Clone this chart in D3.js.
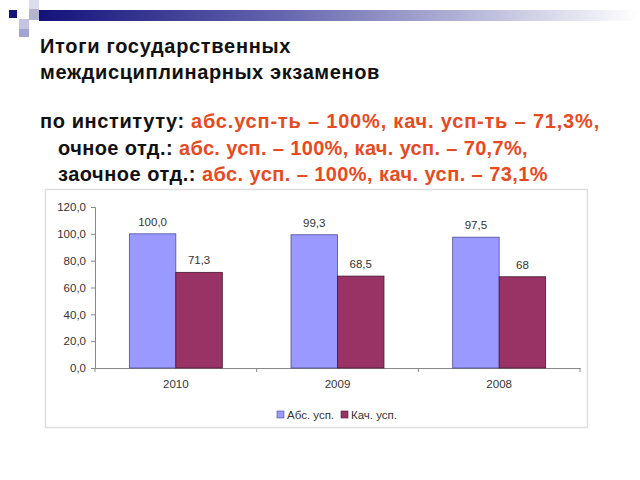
<!DOCTYPE html>
<html><head><meta charset="utf-8">
<script src="https://cdn.jsdelivr.net/npm/d3@7"></script>
<style>body{margin:0;background:#fff}svg{display:block}</style>
</head><body>
<svg id="c" width="640" height="480"></svg>
<script>
const years = ["2010", "2009", "2008"];
const seriesNames = ["Абс. усп.", "Кач. усп."];
const absValues = [100.0, 99.3, 97.5];
const qualValues = [71.3, 68.5, 68];
const yTicks = [0, 20, 40, 60, 80, 100, 120];
const titleLines = ["Итоги государственных", "междисциплинарных экзаменов"];
const infoLines = [
  ["по институту: ", "абс.усп-ть – 100%, кач. усп-ть – 71,3%,"],
  ["очное отд.: ", "абс. усп. – 100%, кач. усп. – 70,7%,"],
  ["заочное отд.: ", "абс. усп. – 100%, кач. усп. – 73,1%"]
];

const svg = d3.select("#c");
const FONT = "'Liberation Sans', Arial, sans-serif";

// fit a text/tspan to a target width via letter-spacing
function fit(sel, target){
  const node = sel.node();
  const w = node.getComputedTextLength();
  const n = node.textContent.length;
  sel.attr("letter-spacing", ((target - w)/n).toFixed(3));
}

// decoration
const defs = svg.append("defs");
const g = defs.append("linearGradient").attr("id","bar").attr("x1","0").attr("x2","1");
g.append("stop").attr("offset","0").attr("stop-color","#12127a");
g.append("stop").attr("offset","0.4").attr("stop-color","#6464ae");
g.append("stop").attr("offset","1").attr("stop-color","#ffffff");
svg.append("rect").attr("x",39).attr("y",10).attr("width",600).attr("height",11).attr("fill","url(#bar)");
[[29,0,10,9,"#dcdcee"],[29,9,10,11,"#b4b4cc"],[19,19,10,10,"#c4c4e2"],[19,29,10,8,"#a4a4d4"],[9,10,8,8,"#16167a"]]
  .forEach(s=>svg.append("rect").attr("x",s[0]).attr("y",s[1]).attr("width",s[2]).attr("height",s[3]).attr("fill",s[4]));

// titles
const titleW = [251, 340];
titleLines.forEach((t,i)=>{
  const el = svg.append("text").attr("x",40).attr("y",53+i*26).attr("font-family",FONT).attr("font-weight","bold")
    .attr("font-size",20).attr("fill","#111").text(t);
  fit(el, titleW[i]);
});
const infoX = [[40,191],[58,179],[58,202]];
const infoW = [[151,409],[121,349],[144,346]];
infoLines.forEach((l,i)=>{
  const t = svg.append("text").attr("y",128+i*26.5).attr("font-family",FONT)
    .attr("font-weight","bold").attr("font-size",20);
  const a = t.append("tspan").attr("x",infoX[i][0]).attr("fill","#111").text(l[0]);
  const b = t.append("tspan").attr("x",infoX[i][1]).attr("fill","#e84a1f").text(l[1]);
  fit(a, infoW[i][0]); fit(b, infoW[i][1]);
});

// chart box
svg.append("rect").attr("x",45.5).attr("y",189.5).attr("width",542).attr("height",238)
  .attr("fill","#fff").attr("stroke","#dedede").attr("stroke-width",1.5);

const x0 = d3.scaleBand().domain(years).range([95,580]).padding(0);
const bw = x0.bandwidth();
const x1 = d3.scaleBand().domain(seriesNames).range([bw*0.2125, bw*0.7875]);
const y = d3.scaleLinear().domain([0,120]).range([368,207]);
const colors = d3.scaleOrdinal().domain(seriesNames).range(["#9999ff","#993366"]);
const strokes = d3.scaleOrdinal().domain(seriesNames).range(["#4d4d99","#4a1530"]);

const fmtComma = v => String(v).replace(".", ",");
const data = years.map((yr,i)=>({year:yr, vals:[
  {s:seriesNames[0], v:absValues[i], label:absValues[i].toFixed(1).replace(".",",")},
  {s:seriesNames[1], v:qualValues[i], label:fmtComma(qualValues[i])}
]}));

// y axis
const yAxis = svg.append("g").attr("transform","translate(95,0)")
  .call(d3.axisLeft(y).tickValues(yTicks).tickSize(4).tickPadding(5).tickFormat(d=>d3.format(".1f")(d).replace(".",",")));
yAxis.selectAll("path,line").attr("stroke","#888");
yAxis.selectAll("text").attr("font-family",FONT).attr("font-size",11.5).attr("fill","#333");

// x axis
const xAxis = svg.append("g").attr("transform","translate(0,368)")
  .call(d3.axisBottom(x0).tickSize(0).tickPadding(12).tickSizeOuter(0));
xAxis.select("path").attr("stroke","#888");
xAxis.selectAll("text").attr("font-family",FONT).attr("font-size",11.5).attr("fill","#333");
xAxis.selectAll("line.b").data([95, ...years.map(yv=>x0(yv)+bw)]).enter().append("line")
  .attr("x1",d=>d).attr("x2",d=>d).attr("y1",0).attr("y2",4).attr("stroke","#888");

// bars
const grp = svg.append("g").selectAll("g").data(data).enter().append("g")
  .attr("transform",d=>`translate(${x0(d.year)},0)`);
grp.selectAll("rect").data(d=>d.vals).enter().append("rect")
  .attr("x",d=>x1(d.s)).attr("width",x1.bandwidth())
  .attr("y",d=>y(d.v)).attr("height",d=>y(0)-y(d.v))
  .attr("fill",d=>colors(d.s)).attr("stroke",d=>strokes(d.s)).attr("stroke-width",0.8);
grp.selectAll("text").data(d=>d.vals).enter().append("text")
  .attr("x",d=>x1(d.s)+x1.bandwidth()/2).attr("y",d=>y(d.v)-8)
  .attr("text-anchor","middle").attr("font-family",FONT).attr("font-size",11.5).attr("fill","#333")
  .text(d=>d.label);

// legend
const leg = svg.append("g");
const legX = [277, 341];
seriesNames.forEach((s,i)=>{
  leg.append("rect").attr("x",legX[i]).attr("y",411).attr("width",7).attr("height",7)
    .attr("fill",colors(s)).attr("stroke",strokes(s)).attr("stroke-width",0.6);
  leg.append("text").attr("x",legX[i]+10).attr("y",419).attr("font-family",FONT).attr("font-size",11.5)
    .attr("fill","#333").text(s);
});
</script>
</body></html>
